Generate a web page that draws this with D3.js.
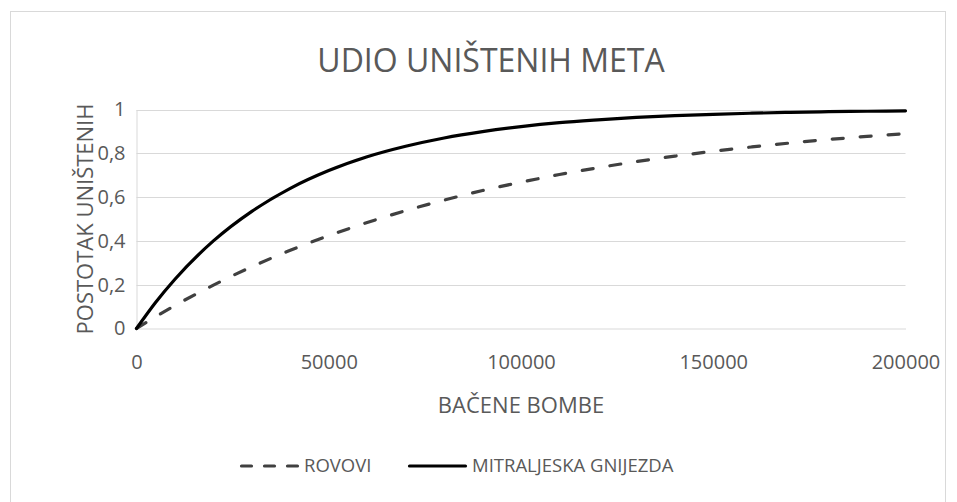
<!DOCTYPE html>
<html>
<head>
<meta charset="utf-8">
<script src="https://cdn.jsdelivr.net/npm/d3@7"></script>
<style>
    body { margin: 0; background: #fff; }
    text { font-family: "Open Sans", sans-serif; fill: #595959; }
</style>
</head>
<body>
<svg id="chart" width="957" height="502"></svg>
<script>
// bombs dropped (x) and share destroyed
const bombs = [0, 5000, 10000, 20000, 30000, 40000, 50000, 60000, 70000, 80000, 90000, 100000,
    110000, 120000, 130000, 140000, 150000, 160000, 170000, 180000, 190000, 200000]
const rovovi = [0, 0.054, 0.105, 0.198, 0.282, 0.357, 0.424, 0.484, 0.538, 0.586, 0.630, 0.668,
    0.703, 0.734, 0.762, 0.787, 0.809, 0.829, 0.847, 0.863, 0.877, 0.890]
const gnijezda = [0, 0.120, 0.225, 0.400, 0.535, 0.640, 0.721, 0.784, 0.832, 0.870, 0.899, 0.922,
    0.940, 0.953, 0.964, 0.972, 0.978, 0.983, 0.987, 0.990, 0.992, 0.994]

const xTicks = [0, 50000, 100000, 150000, 200000]
const yTicks = [0, 0.2, 0.4, 0.6, 0.8, 1]

const seriesNames = ["ROVOVI", "MITRALJESKA GNIJEZDA"]

const svg = d3.select("#chart")

const plot = {left: 136.5, right: 905.5, top: 109.5, bottom: 328.5}

// outer chart border
svg.append("rect")
    .attr("x", 10.5)
    .attr("y", 11.5)
    .attr("width", 935)
    .attr("height", 520)
    .attr("fill", "none")
    .attr("stroke", "#d9d9d9")

let x = d3.scaleLinear()
    .domain([0, 200000])
    .range([plot.left, plot.right])
let y = d3.scaleLinear()
    .domain([0, 1])
    .range([plot.bottom, plot.top])

// gridlines
svg.append("g")
    .selectAll("line")
    .data(yTicks.filter(d => d > 0))
    .enter()
    .append("line")
    .attr("x1", plot.left)
    .attr("x2", plot.right)
    .attr("y1", d => Math.round(y(d)) + 0.5)
    .attr("y2", d => Math.round(y(d)) + 0.5)
    .attr("stroke", "#d9d9d9")
    .attr("stroke-width", 1)

// axes
let xAxis = svg.append("g")
    .attr("transform", "translate(0," + plot.bottom + ")")
    .call(d3.axisBottom(x).tickValues(xTicks).tickSize(0).tickPadding(26).tickFormat(d => d))
let yAxis = svg.append("g")
    .attr("transform", "translate(" + plot.left + ",0)")
    .call(d3.axisLeft(y).tickValues(yTicks).tickSize(0).tickPadding(11)
        .tickFormat(d => String(d).replace(".", ",")))

xAxis.select(".domain").attr("stroke", "#d9d9d9")
yAxis.select(".domain").attr("stroke", "#d9d9d9")
svg.selectAll(".tick text")
    .attr("font-family", "Open Sans")
    .attr("font-size", 20)
    .attr("fill", "#595959")

// lines
const line = (values) => d3.line()
    .x((d, i) => x(bombs[i]))
    .y(d => y(d))
    .curve(d3.curveMonotoneX)(values)

svg.append("path")
    .attr("d", line(rovovi))
    .attr("fill", "none")
    .attr("stroke", "#404040")
    .attr("stroke-width", 3.2)
    .attr("stroke-dasharray", "11,17")
    .attr("stroke-linecap", "round")

svg.append("path")
    .attr("d", line(gnijezda))
    .attr("fill", "none")
    .attr("stroke", "#000")
    .attr("stroke-width", 3.2)
    .attr("stroke-linecap", "round")

// titles
svg.append("text")
    .attr("x", 491)
    .attr("y", 72)
    .attr("text-anchor", "middle")
    .attr("font-size", 32)
    .text("UDIO UNIŠTENIH META")

svg.append("text")
    .attr("x", 521)
    .attr("y", 413)
    .attr("text-anchor", "middle")
    .attr("font-size", 22)
    .text("BAČENE BOMBE")

svg.append("text")
    .attr("transform", "translate(93," + (plot.top + plot.bottom) / 2 + ") rotate(-90)")
    .attr("text-anchor", "middle")
    .attr("font-size", 22)
    .text("POSTOTAK UNIŠTENIH")

// legend
const legend = svg.append("g").attr("transform", "translate(0,466)")
const legendItems = [
    {name: seriesNames[0], x: 240, dash: "10,13", color: "#404040"},
    {name: seriesNames[1], x: 408, dash: null, color: "#000"}
]
legendItems.forEach(item => {
    legend.append("line")
        .attr("x1", item.x + 1.5)
        .attr("x2", item.x + 57.5)
        .attr("y1", 0)
        .attr("y2", 0)
        .attr("stroke", item.color)
        .attr("stroke-width", 3.2)
        .attr("stroke-linecap", "round")
        .attr("stroke-dasharray", item.dash)
    legend.append("text")
        .attr("x", item.x + 64)
        .attr("y", 0)
        .attr("dy", "0.35em")
        .attr("font-size", 18.5)
        .text(item.name)
})
</script>
</body>
</html>
